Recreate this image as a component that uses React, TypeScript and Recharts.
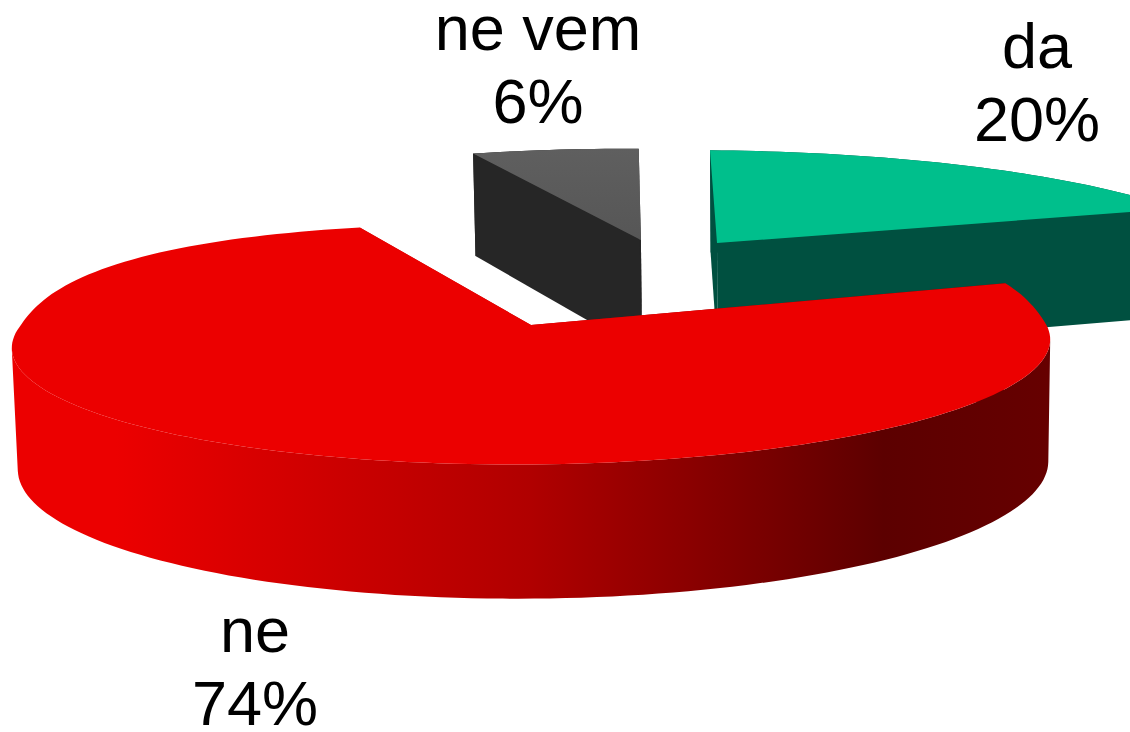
import React from "react";
import { PieChart, Pie, Cell } from "recharts";

const names = ["ne vem", "da", "ne"];
const values = [6, 20, 74];

const topColors = ["url(#grayTop)", "#00BF8C", "#EC0000"];
const sideColors = ["#262626", "#005040", "url(#redWall)"];
const offsetsX = [0.241, 0.406, 0];
const offsetsY = [0.81, 0.778, 0];
const radiusScale = [1.13, 1.14, 1.0];
const startShift = [0, -0.7, 2.8];
const endShift = [0, 3.3, 1.7];
const backSquareness = [2, 2, 2.5];
const skew = [0, 0, 0.008];
const labelX = [538, 1037, 255];
const labelY = [50, 68, 652];

const W = 1130;
const H = 732;
const DEPTH = 6.5;
const TILT = 0.23;
const VANISH_X = 800;
const RAD = Math.PI / 180;

type P = { x: number; y: number; drop: number };

const project = (px: number, py: number, cx: number, cy: number, R: number, sk: number): P => {
  const s = DEPTH / (DEPTH + py);
  const x = cx + s * px * R;
  return { x, y: cy - s * py * TILT * R - (x - cx) * sk, drop: 42 + 78 * s };
};

const Slice3D = (props: any) => {
  const { cx, cy, outerRadius, startAngle, endAngle, index } = props;
  const r = radiusScale[index];
  const ox = offsetsX[index];
  const oy = offsetsY[index];
  const sk = skew[index];
  const from = startAngle + startShift[index];
  const to = endAngle + endShift[index];
  const pts: P[] = [];
  const n = Math.max(8, Math.ceil(Math.abs(to - from) / 1.5));
  for (let i = 0; i <= n; i++) {
    const a = (from + ((to - from) * i) / n) * RAD;
    const c = Math.cos(a);
    const si = Math.sin(a);
    const q = si > 0 ? backSquareness[index] : 2;
    const norm = Math.pow(Math.pow(Math.abs(c), q) + Math.pow(Math.abs(si), q), 1 / q);
    pts.push(project(ox + (r * c) / norm, oy + (r * si) / norm, cx, cy, outerRadius, sk));
  }
  const apex = project(ox, oy, cx, cy, outerRadius, sk);
  const f = (v: number) => v.toFixed(1);
  const line = (list: { x: number; y: number }[]) =>
    list.map((p, i) => `${i ? "L" : "M"}${f(p.x)} ${f(p.y)}`).join(" ") + " Z";
  const down = (p: P) => ({ x: p.x + (VANISH_X - p.x) * 0.0076, y: p.y + p.drop });
  let iMax = 0;
  let iMin = 0;
  pts.forEach((p, i) => {
    if (p.x > pts[iMax].x) iMax = i;
    if (p.x < pts[iMin].x) iMin = i;
  });
  const front = pts.slice(Math.min(iMax, iMin), Math.max(iMax, iMin) + 1);
  const wall = line([...front, ...front.map(down).reverse()]);
  const first = pts[0];
  const last = pts[pts.length - 1];
  const cutA = line([apex, first, down(first), down(apex)]);
  const cutB = line([apex, last, down(last), down(apex)]);
  const top = line([apex, ...pts]);
  const side = sideColors[index];
  return (
    <g>
      <defs>
        <linearGradient id="redWall" gradientUnits="userSpaceOnUse" x1="12" y1="0" x2="1050" y2="0">
          <stop offset="0.1" stopColor="#EC0000" />
          <stop offset="0.5" stopColor="#B00000" />
          <stop offset="0.84" stopColor="#5C0000" />
          <stop offset="1" stopColor="#660000" />
        </linearGradient>
        <linearGradient id="grayTop" x1="0" y1="0" x2="0" y2="1">
          <stop offset="0" stopColor="#5F5F5F" />
          <stop offset="1" stopColor="#565656" />
        </linearGradient>
      </defs>
      <path d={wall} fill={side} />
      <path d={cutA} fill={side} />
      <path d={cutB} fill={side} />
      <path d={top} fill={topColors[index]} />
    </g>
  );
};

const renderLabel = (props: any) => {
  const { index, name, percent } = props;
  return (
    <text
      key={name}
      textAnchor="middle"
      fontFamily="'Liberation Sans', Arial, sans-serif"
      fontSize={63}
      fill="#000"
    >
      <tspan x={labelX[index]} y={labelY[index]}>
        {name}
      </tspan>
      <tspan x={labelX[index]} dy={73}>
        {Math.round(percent * 100)}%
      </tspan>
    </text>
  );
};

const data = names.map((name, i) => ({ name, value: values[i] }));

export default function App() {
  return (
    <div style={{ position: "fixed", left: 0, top: 0, width: W, height: H, overflow: "hidden", background: "#fff" }}>
      <PieChart width={W} height={H} margin={{ top: 0, right: 0, bottom: 0, left: 0 }}>
        <Pie
          data={data}
          dataKey="value"
          nameKey="name"
          cx={531}
          cy={325}
          innerRadius={0}
          outerRadius={513}
          startAngle={110}
          endAngle={-250}
          paddingAngle={0}
          stroke="none"
          isAnimationActive={false}
          shape={Slice3D}
          label={renderLabel}
          labelLine={false}
        >
          {data.map((d) => (
            <Cell key={d.name} />
          ))}
        </Pie>
      </PieChart>
    </div>
  );
}
